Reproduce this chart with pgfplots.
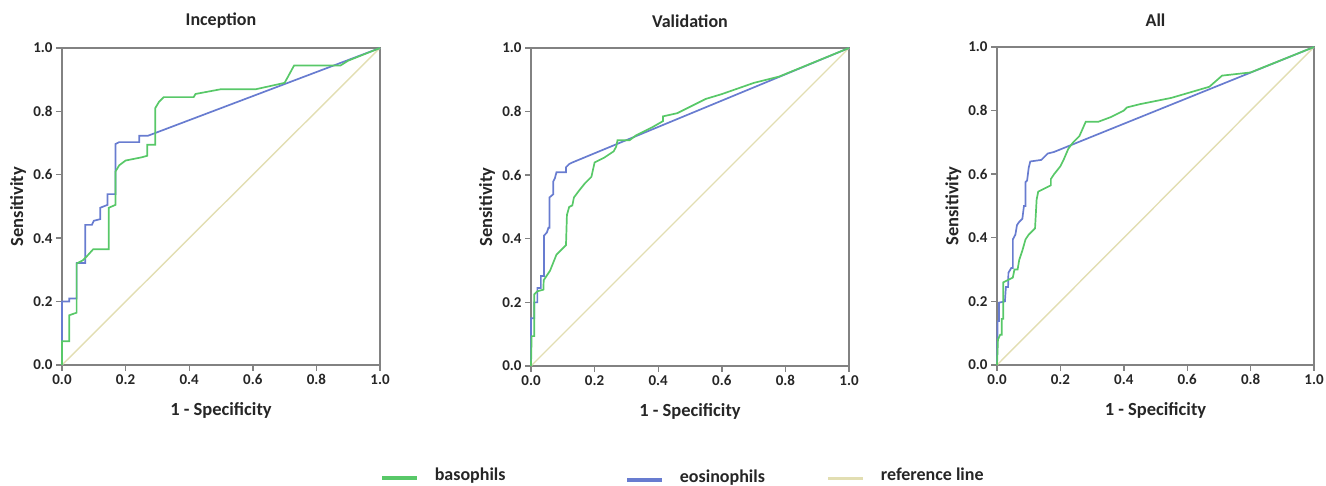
\documentclass[border=0pt]{standalone}
\usepackage{pgfplots}
\pgfplotsset{compat=1.18}
\usepackage{fontspec}
\setmainfont{Carlito}
\definecolor{cgreen}{RGB}{88,200,104}
\definecolor{cblue}{RGB}{104,124,208}
\definecolor{cref}{RGB}{226,222,178}
\definecolor{cframe}{RGB}{130,130,130}
\pgfplotsset{
  rocax/.style={
    scale only axis, width=318pt, height=317pt,
    xmin=0, xmax=1, ymin=0, ymax=1,
    xtick={0,0.2,...,1}, ytick={0,0.2,...,1},
    /pgf/number format/assume math mode=true,
    /pgf/number format/.cd, fixed, fixed zerofill, precision=1, /pgfplots/.cd,
    tick label style={font=\fontsize{15}{16}\selectfont\bfseries, text=black!85},
    label style={font=\fontsize{18.5}{20}\selectfont\bfseries, text=black!85},
    title style={font=\fontsize{18}{20}\selectfont\bfseries, text=black!85, at={(axis description cs:0.5,1.066)}, anchor=center},
    xlabel style={at={(axis description cs:0.5,-0.142)}, anchor=center},
    ylabel style={at={(axis description cs:-0.138,0.5)}, anchor=center},
    xlabel={1 - Specificity}, ylabel={Sensitivity},
    axis line style={cframe, line width=1.6pt},
    tick style={cframe, line width=1.4pt},
    tick align=outside, major tick length=6pt,
    xtick pos=bottom, ytick pos=left,
    clip=false,
    legend style={draw=none, fill=none, inner sep=0pt, font=\fontsize{18}{20}\selectfont\bfseries, text=black!85},
    legend image code/.code={\draw[#1, line width=3.6pt] (0pt,-3pt) -- (35pt,-3pt);},
    legend cell align=left,
  },
  gline/.style={cgreen, line width=1.7pt},
  bline/.style={cblue, line width=1.7pt},
  rline/.style={cref, line width=1.4pt},
}
\begin{document}
\begin{tikzpicture}[x=1pt,y=1pt]
\useasboundingbox (0,0) rectangle (1326,486);
% ---------- Inception ----------
\begin{axis}[rocax, at={(62pt,121pt)}, anchor=south west, title={Inception},
  legend style={at={(axis description cs:1.0,-0.347)}, anchor=west}]
\addplot[rline, forget plot] coordinates {(0,0) (1,1)};
\addplot[bline, forget plot] coordinates {(0,0) (0,0.2) (0.023,0.2) (0.023,0.21) (0.046,0.21) (0.046,0.322) (0.073,0.322) (0.073,0.442) (0.094,0.442) (0.1,0.455) (0.12,0.46) (0.12,0.496) (0.143,0.505) (0.143,0.539) (0.168,0.539) (0.168,0.697) (0.18,0.703) (0.243,0.703) (0.243,0.723) (0.27,0.723) (1,1)};
\addplot[gline, forget plot] coordinates {(0,0) (0,0.075) (0.023,0.075) (0.023,0.157) (0.046,0.165) (0.046,0.32) (0.065,0.33) (0.08,0.345) (0.098,0.365) (0.147,0.365) (0.147,0.496) (0.168,0.505) (0.168,0.61) (0.18,0.63) (0.2,0.645) (0.25,0.655) (0.268,0.66) (0.268,0.695) (0.293,0.695) (0.293,0.81) (0.305,0.83) (0.32,0.845) (0.414,0.845) (0.42,0.855) (0.5,0.87) (0.61,0.87) (0.7,0.89) (0.73,0.945) (0.876,0.945) (0.9,0.96) (1,1)};
\addlegendimage{cgreen}
\addlegendentry{\hspace{14pt}basophils}
\end{axis}
% ---------- Validation ----------
\begin{axis}[rocax, at={(531pt,120pt)}, anchor=south west, height=318pt, title={Validation},
  legend style={at={(axis description cs:0.296,-0.349)}, anchor=west}]
\addplot[rline, forget plot] coordinates {(0,0) (1,1)};
\addplot[bline, forget plot] coordinates {(0,0) (0,0.15) (0.01,0.15) (0.01,0.2) (0.02,0.2) (0.02,0.245) (0.031,0.245) (0.031,0.283) (0.041,0.283) (0.041,0.41) (0.05,0.42) (0.055,0.435) (0.058,0.435) (0.058,0.53) (0.07,0.54) (0.07,0.58) (0.075,0.59) (0.08,0.609) (0.11,0.609) (0.11,0.625) (0.12,0.635) (0.13,0.64) (1,1)};
\addplot[gline, forget plot] coordinates {(0,0) (0.002,0.094) (0.01,0.094) (0.01,0.225) (0.02,0.235) (0.039,0.24) (0.04,0.27) (0.05,0.285) (0.06,0.3) (0.08,0.35) (0.1,0.37) (0.11,0.38) (0.113,0.475) (0.12,0.5) (0.13,0.505) (0.135,0.53) (0.15,0.55) (0.17,0.575) (0.19,0.595) (0.2,0.64) (0.23,0.655) (0.26,0.675) (0.268,0.69) (0.272,0.71) (0.31,0.71) (0.33,0.725) (0.38,0.75) (0.415,0.77) (0.415,0.785) (0.46,0.795) (0.5,0.815) (0.55,0.84) (0.6,0.855) (0.7,0.89) (0.78,0.91) (1,1)};
\addlegendimage{cblue}
\addlegendentry{\hspace{14pt}eosinophils}
\end{axis}
% ---------- All ----------
\begin{axis}[rocax, at={(997pt,121pt)}, anchor=south west, width=317pt, height=318pt, title={All},
  legend style={at={(axis description cs:-0.539,-0.347)}, anchor=west}]
\addplot[rline, forget plot] coordinates {(0,0) (1,1)};
\addplot[bline, forget plot] coordinates {(0,0) (0.002,0.138) (0.006,0.138) (0.006,0.196) (0.025,0.2) (0.028,0.245) (0.035,0.245) (0.036,0.29) (0.045,0.305) (0.05,0.305) (0.05,0.395) (0.058,0.41) (0.063,0.44) (0.07,0.45) (0.08,0.46) (0.085,0.5) (0.09,0.5) (0.09,0.575) (0.095,0.58) (0.1,0.62) (0.105,0.64) (0.14,0.645) (0.15,0.655) (0.16,0.665) (0.18,0.67) (1,1)};
\addplot[gline, forget plot] coordinates {(0,0) (0.003,0.08) (0.01,0.095) (0.015,0.095) (0.015,0.145) (0.02,0.145) (0.02,0.26) (0.03,0.265) (0.04,0.27) (0.05,0.275) (0.055,0.3) (0.065,0.3) (0.07,0.33) (0.08,0.36) (0.09,0.395) (0.1,0.41) (0.12,0.43) (0.125,0.52) (0.13,0.545) (0.15,0.555) (0.17,0.565) (0.17,0.585) (0.18,0.6) (0.2,0.625) (0.21,0.645) (0.225,0.68) (0.24,0.7) (0.26,0.72) (0.28,0.765) (0.32,0.765) (0.36,0.78) (0.4,0.8) (0.41,0.81) (0.45,0.82) (0.55,0.84) (0.67,0.875) (0.71,0.91) (0.8,0.92) (1,1)};
\addlegendimage{cref}
\addlegendentry{\hspace{14pt}reference line}
\end{axis}
\end{tikzpicture}
\end{document}
